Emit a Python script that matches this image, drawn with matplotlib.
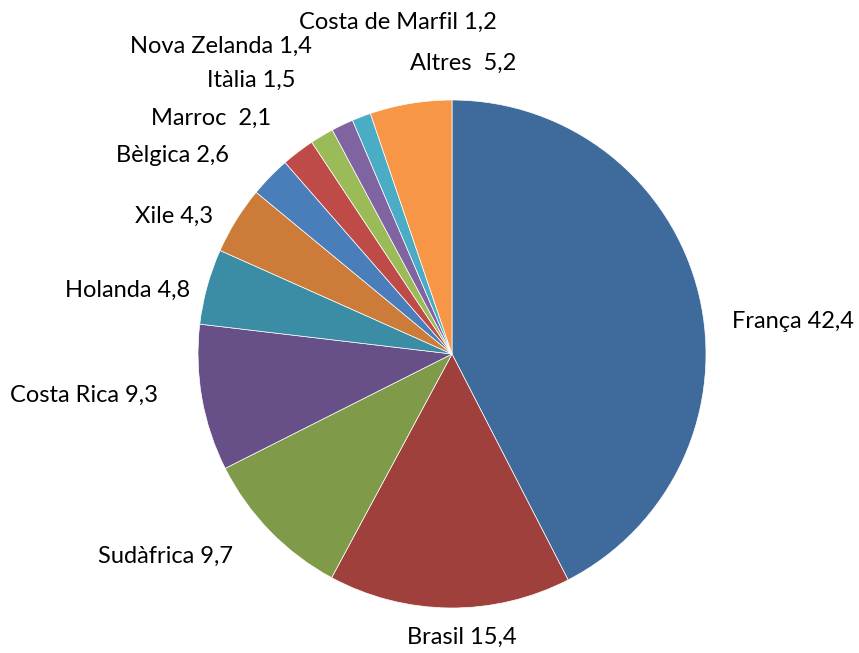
import matplotlib.pyplot as plt

# exports by country (%)
countries = ['França', 'Brasil', 'Sudàfrica', 'Costa Rica', 'Holanda', 'Xile',
             'Bèlgica', 'Marroc', 'Itàlia', 'Nova Zelanda', 'Costa de Marfil', 'Altres']
values = [42.4, 15.4, 9.7, 9.3, 4.8, 4.3, 2.6, 2.1, 1.5, 1.4, 1.2, 5.2]
separators = [' ', ' ', ' ', ' ', ' ', ' ', ' ', '  ', ' ', ' ', ' ', '  ']
colors = ['#3F6A9C', '#A0403D', '#7F9A48', '#674F88', '#3A8DA4', '#CC7B38',
          '#4A7EBB', '#BE4B48', '#9BBB59', '#8064A2', '#4BACC6', '#F79646']

# label anchor points in pixels (x, y from top)
label_pos = [(793, 322), (462, 637), (165, 556), (84, 395), (128, 290), (174, 216),
             (173, 155), (211, 118), (251, 80), (221, 46), (398, 22), (463, 63)]

W, H = 859, 653
fig = plt.figure(figsize=(W / 100, H / 100), dpi=100)
ax = fig.add_axes([0, 0, 1, 1])

ax.pie(values, colors=colors, startangle=90, counterclock=False,
       center=(452, H - 354), radius=254, frame=True,
       wedgeprops=dict(edgecolor='white', linewidth=0.5))
ax.set_xlim(0, W)
ax.set_ylim(0, H)
ax.axis('off')

for name, v, sep, (x, y) in zip(countries, values, separators, label_pos):
    txt = name + sep + f'{v:.1f}'.replace('.', ',')
    ax.text(x, H - y, txt, ha='center', va='center', fontsize=17,
            family=['Lato', 'DejaVu Sans'], color='black')

fig.savefig('out.png', dpi=100)
